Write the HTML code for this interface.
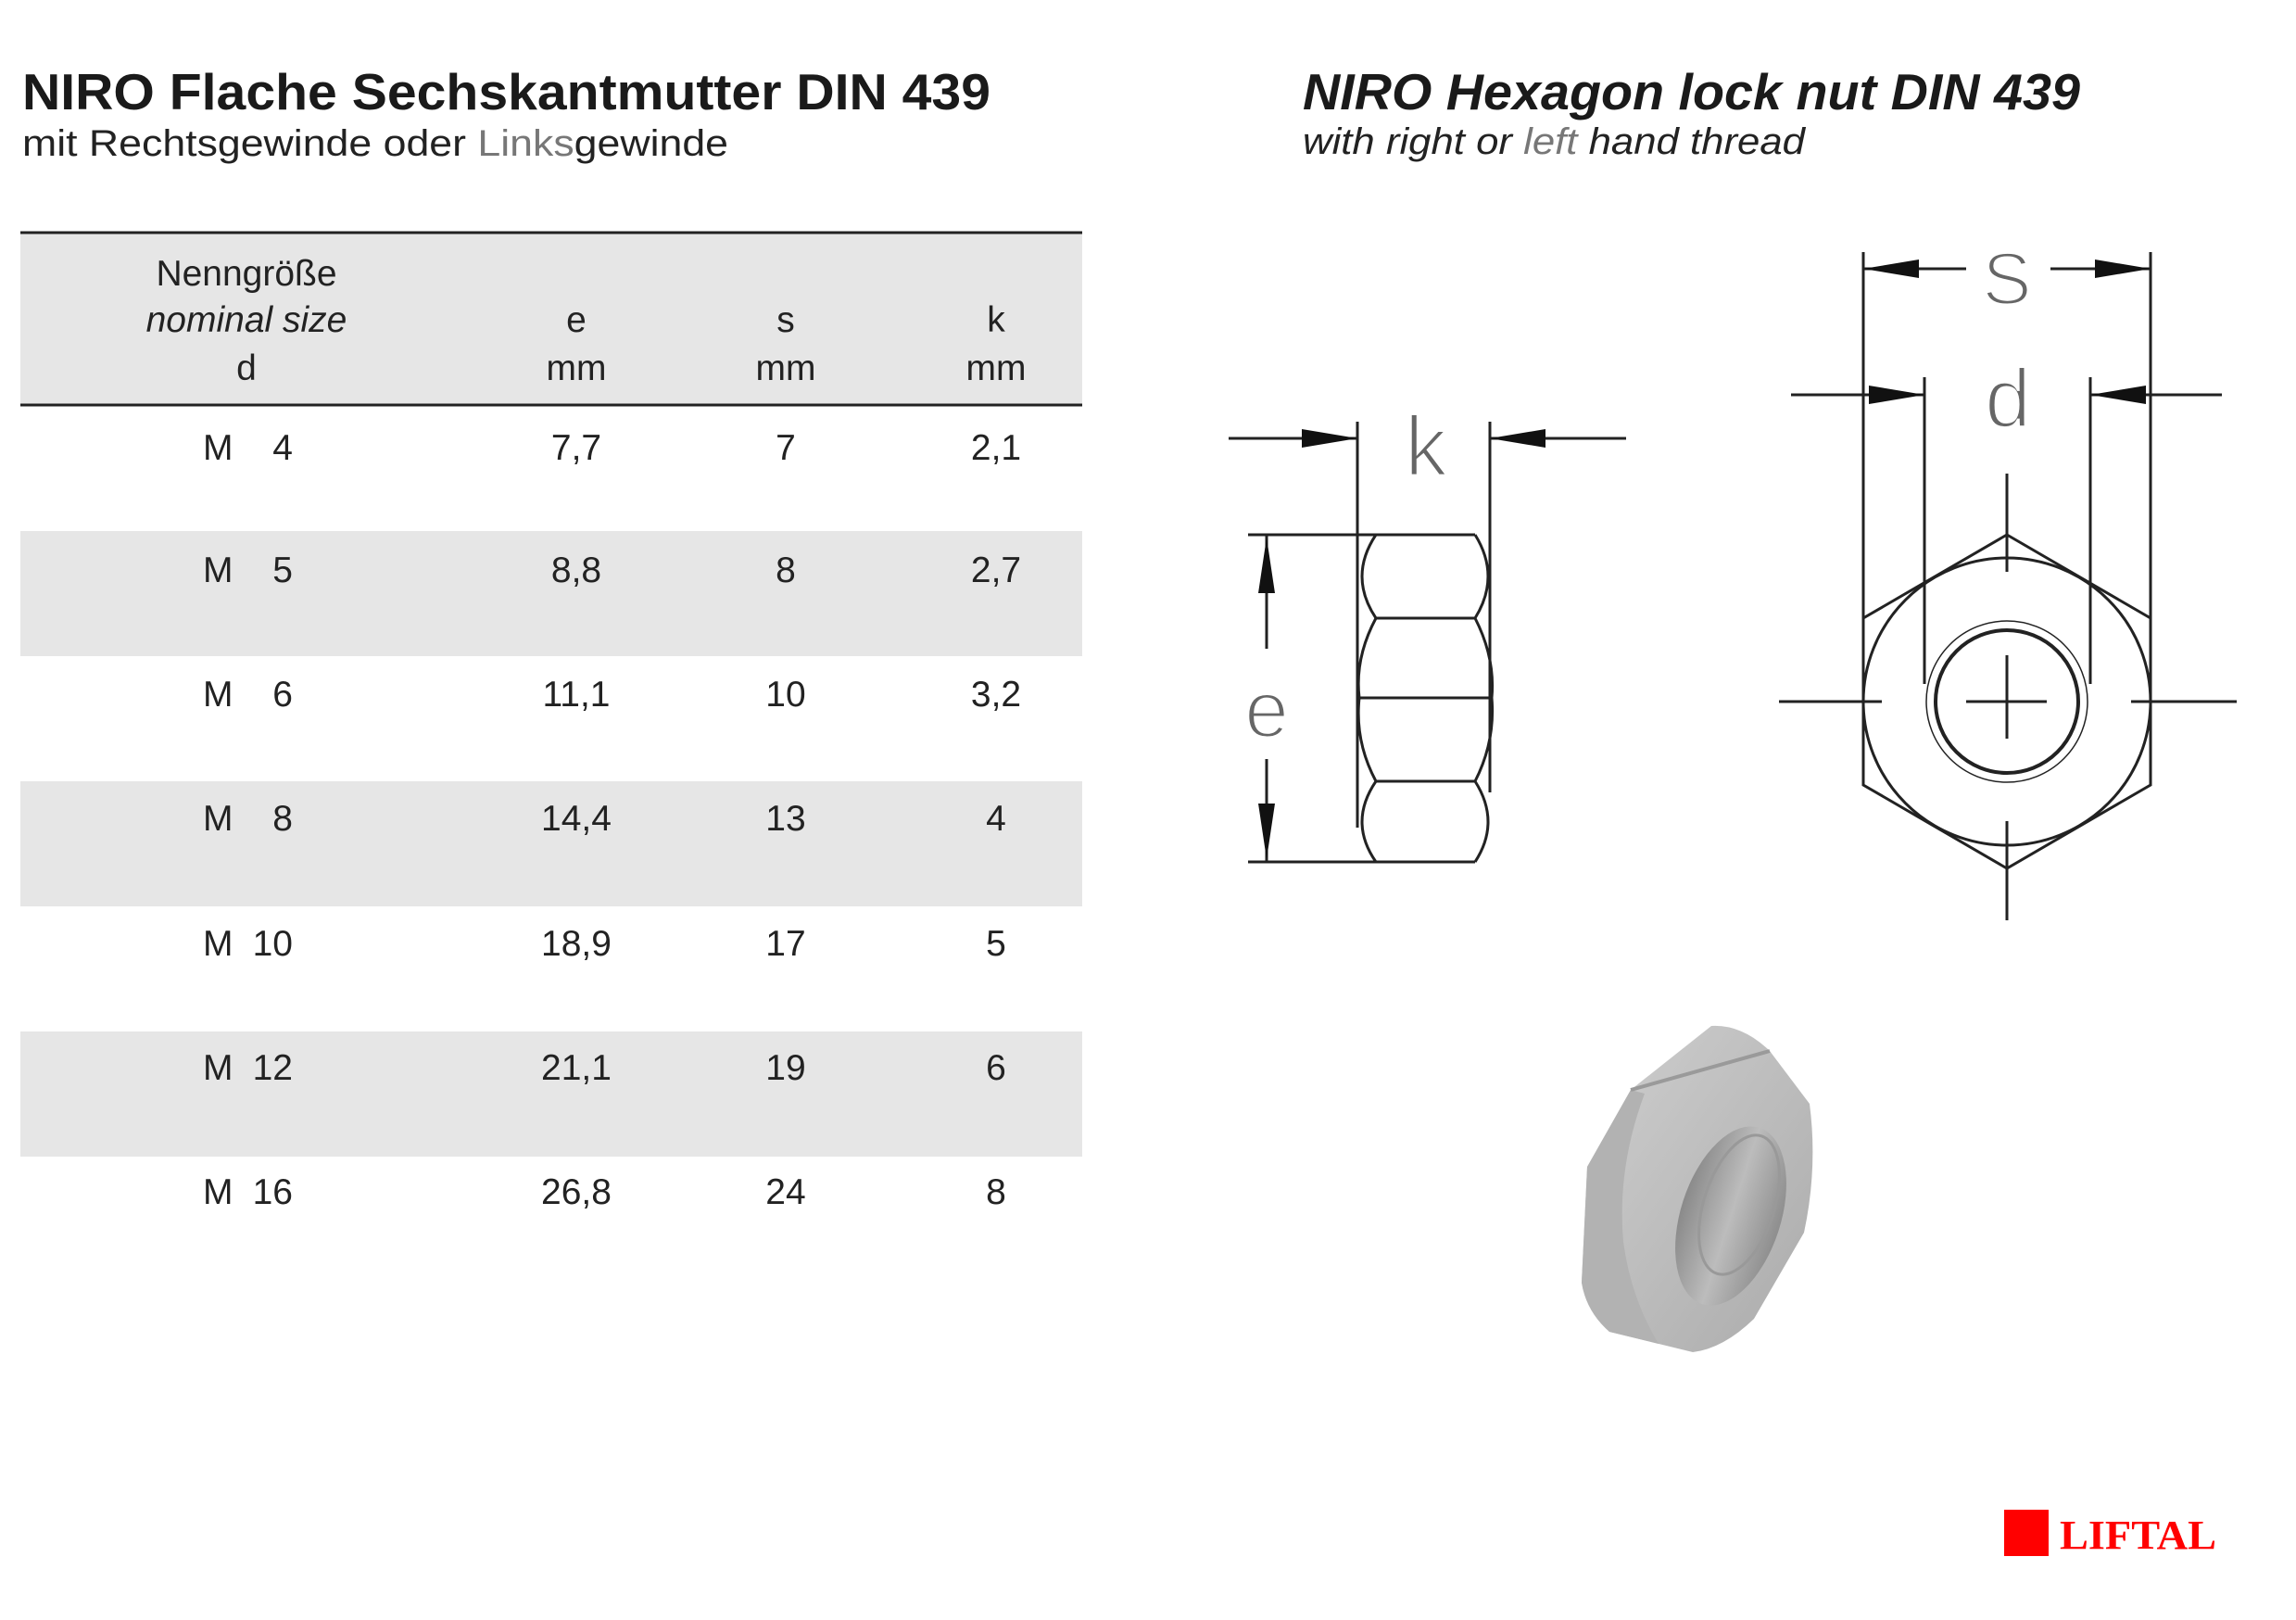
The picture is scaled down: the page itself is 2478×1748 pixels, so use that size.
<!DOCTYPE html>
<html><head><meta charset="utf-8"><style>html,body{margin:0;padding:0;background:#fff}svg{display:block}</style></head><body>
<svg width="2478" height="1748" viewBox="0 0 2478 1748" xmlns="http://www.w3.org/2000/svg" font-family="'Liberation Sans', sans-serif">
<defs>
<linearGradient id="g1" x1="0" y1="0" x2="1" y2="1"><stop offset="0" stop-color="#cfcfcf"/><stop offset="0.5" stop-color="#bdbdbd"/><stop offset="1" stop-color="#ababab"/></linearGradient>
<linearGradient id="g2" x1="0" y1="0" x2="1" y2="0"><stop offset="0" stop-color="#8a8a8a"/><stop offset="0.5" stop-color="#bcbcbc"/><stop offset="1" stop-color="#8e8e8e"/></linearGradient>
</defs>
<!-- titles -->
<text x="24" y="118" font-size="55" font-weight="bold" fill="#1a1a1a" textLength="1045" lengthAdjust="spacingAndGlyphs">NIRO Flache Sechskantmutter DIN 439</text>
<text x="24" y="168" font-size="40" fill="#222" textLength="762" lengthAdjust="spacingAndGlyphs">mit Rechtsgewinde oder <tspan fill="#777">Links</tspan>gewinde</text>
<text x="1406" y="118" font-size="55" font-weight="bold" font-style="italic" fill="#1a1a1a" textLength="839" lengthAdjust="spacingAndGlyphs">NIRO Hexagon lock nut DIN 439</text>
<text x="1406" y="166" font-size="40" font-style="italic" fill="#222" textLength="542" lengthAdjust="spacingAndGlyphs">with right or <tspan fill="#777">left</tspan> hand thread</text>
<!-- table -->
<rect x="22" y="251" width="1146" height="186" fill="#e6e6e6"/>
<rect x="22" y="573" width="1146" height="135" fill="#e6e6e6"/>
<rect x="22" y="843" width="1146" height="135" fill="#e6e6e6"/>
<rect x="22" y="1113" width="1146" height="135" fill="#e6e6e6"/>
<line x1="22" y1="251" x2="1168" y2="251" stroke="#222" stroke-width="3"/>
<line x1="22" y1="437" x2="1168" y2="437" stroke="#222" stroke-width="3"/>
<g font-size="39" fill="#222" text-anchor="middle">
<text x="266" y="308">Nenngröße</text>
<text x="266" y="358" font-style="italic">nominal size</text>
<text x="266" y="410">d</text>
<text x="622" y="358">e</text><text x="622" y="410">mm</text>
<text x="848" y="358">s</text><text x="848" y="410">mm</text>
<text x="1075" y="358">k</text><text x="1075" y="410">mm</text>
</g>
<g font-size="39" fill="#222">
<g text-anchor="start">
<text x="219" y="496">M</text><text x="219" y="628">M</text><text x="219" y="762">M</text><text x="219" y="896">M</text><text x="219" y="1031">M</text><text x="219" y="1165">M</text><text x="219" y="1299">M</text>
</g>
<g text-anchor="end">
<text x="316" y="496">4</text><text x="316" y="628">5</text><text x="316" y="762">6</text><text x="316" y="896">8</text><text x="316" y="1031">10</text><text x="316" y="1165">12</text><text x="316" y="1299">16</text>
</g>
<g text-anchor="middle">
<text x="622" y="496">7,7</text><text x="848" y="496">7</text><text x="1075" y="496">2,1</text>
<text x="622" y="628">8,8</text><text x="848" y="628">8</text><text x="1075" y="628">2,7</text>
<text x="622" y="762">11,1</text><text x="848" y="762">10</text><text x="1075" y="762">3,2</text>
<text x="622" y="896">14,4</text><text x="848" y="896">13</text><text x="1075" y="896">4</text>
<text x="622" y="1031">18,9</text><text x="848" y="1031">17</text><text x="1075" y="1031">5</text>
<text x="622" y="1165">21,1</text><text x="848" y="1165">19</text><text x="1075" y="1165">6</text>
<text x="622" y="1299">26,8</text><text x="848" y="1299">24</text><text x="1075" y="1299">8</text>
</g>
</g>
<!-- side view -->
<g stroke="#222" stroke-width="3" fill="none">
<line x1="1465" y1="455" x2="1465" y2="893"/>
<line x1="1608" y1="455" x2="1608" y2="855"/>
<line x1="1326" y1="473" x2="1465" y2="473"/>
<line x1="1608" y1="473" x2="1755" y2="473"/>
<line x1="1347" y1="577" x2="1592" y2="577"/>
<line x1="1347" y1="930" x2="1592" y2="930"/>
<line x1="1367" y1="577" x2="1367" y2="700"/>
<line x1="1367" y1="819" x2="1367" y2="930"/>
<line x1="1485" y1="667" x2="1592" y2="667"/>
<line x1="1467" y1="753" x2="1608" y2="753"/>
<line x1="1485" y1="843" x2="1592" y2="843"/>
<path d="M1485,577 Q1455,622 1485,667 Q1462,710 1467,753 Q1462,800 1485,843 Q1455,887 1485,930"/>
<path d="M1592,577 Q1620,622 1592,667 Q1614,710 1610,753 Q1614,800 1592,843 Q1620,887 1592,930"/>
</g>
<g fill="#111">
<polygon points="1465,473 1405,463 1405,483"/>
<polygon points="1608,473 1668,463 1668,483"/>
<polygon points="1367,580 1358,640 1376,640"/>
<polygon points="1367,927 1358,867 1376,867"/>
</g>
<g fill="#666" stroke="#fff" stroke-width="3" paint-order="normal">
<text x="1539" y="513" font-size="92" text-anchor="middle">k</text>
<text x="1367" y="795" font-size="86" text-anchor="middle">e</text>
<text x="2166" y="328" font-size="80" text-anchor="middle">S</text>
<text x="2167" y="461" font-size="90" text-anchor="middle">d</text>
</g>
<!-- front view -->
<g stroke="#222" stroke-width="3" fill="none">
<polygon points="2166,577 2321,667 2321,847 2166,937 2011,847 2011,667"/>
<circle cx="2166" cy="757" r="155"/>
<circle cx="2166" cy="757" r="77" stroke-width="4"/>
<circle cx="2166" cy="757" r="87" stroke-width="1.5"/>
<line x1="2011" y1="272" x2="2011" y2="667"/>
<line x1="2321" y1="272" x2="2321" y2="667"/>
<line x1="2011" y1="290" x2="2122" y2="290"/>
<line x1="2213" y1="290" x2="2321" y2="290"/>
<line x1="2077" y1="407" x2="2077" y2="738"/>
<line x1="2256" y1="407" x2="2256" y2="738"/>
<line x1="1933" y1="426" x2="2077" y2="426"/>
<line x1="2256" y1="426" x2="2398" y2="426"/>
<line x1="1920" y1="757" x2="2031" y2="757"/>
<line x1="2122" y1="757" x2="2209" y2="757"/>
<line x1="2300" y1="757" x2="2414" y2="757"/>
<line x1="2166" y1="511" x2="2166" y2="617"/>
<line x1="2166" y1="707" x2="2166" y2="797"/>
<line x1="2166" y1="886" x2="2166" y2="993"/>
</g>
<g fill="#111">
<polygon points="2011,290 2071,280 2071,300"/>
<polygon points="2321,290 2261,280 2261,300"/>
<polygon points="2077,426 2017,416 2017,436"/>
<polygon points="2256,426 2316,416 2316,436"/>
</g>
<!-- photo nut -->
<path d="M1713,1259 L1760,1176 L1847,1107 Q1880,1105 1910,1134 L1953,1191 Q1962,1260 1947,1330 L1893,1423 Q1860,1455 1827,1459 L1737,1437 Q1712,1415 1707,1384 Z" fill="url(#g1)"/>
<path d="M1713,1259 L1760,1176 L1775,1180 Q1745,1260 1752,1340 Q1760,1400 1790,1450 L1737,1437 Q1712,1415 1707,1384 Z" fill="#b2b2b2"/>
<line x1="1760" y1="1176" x2="1910" y2="1134" stroke="#9a9a9a" stroke-width="4"/>
<ellipse cx="1868" cy="1312" rx="54" ry="100" transform="rotate(18 1868 1312)" fill="url(#g2)"/>
<ellipse cx="1877" cy="1300" rx="38" ry="78" transform="rotate(18 1877 1300)" fill="none" stroke="#999" stroke-width="3"/>
<!-- logo -->
<rect x="2163" y="1629" width="48" height="50" fill="#ff0000"/>
<text x="2223" y="1671" font-size="44" font-weight="bold" fill="#ff0000" textLength="169" lengthAdjust="spacingAndGlyphs" font-family="'Liberation Serif', serif">LIFTAL</text>
</svg>
</body></html>
